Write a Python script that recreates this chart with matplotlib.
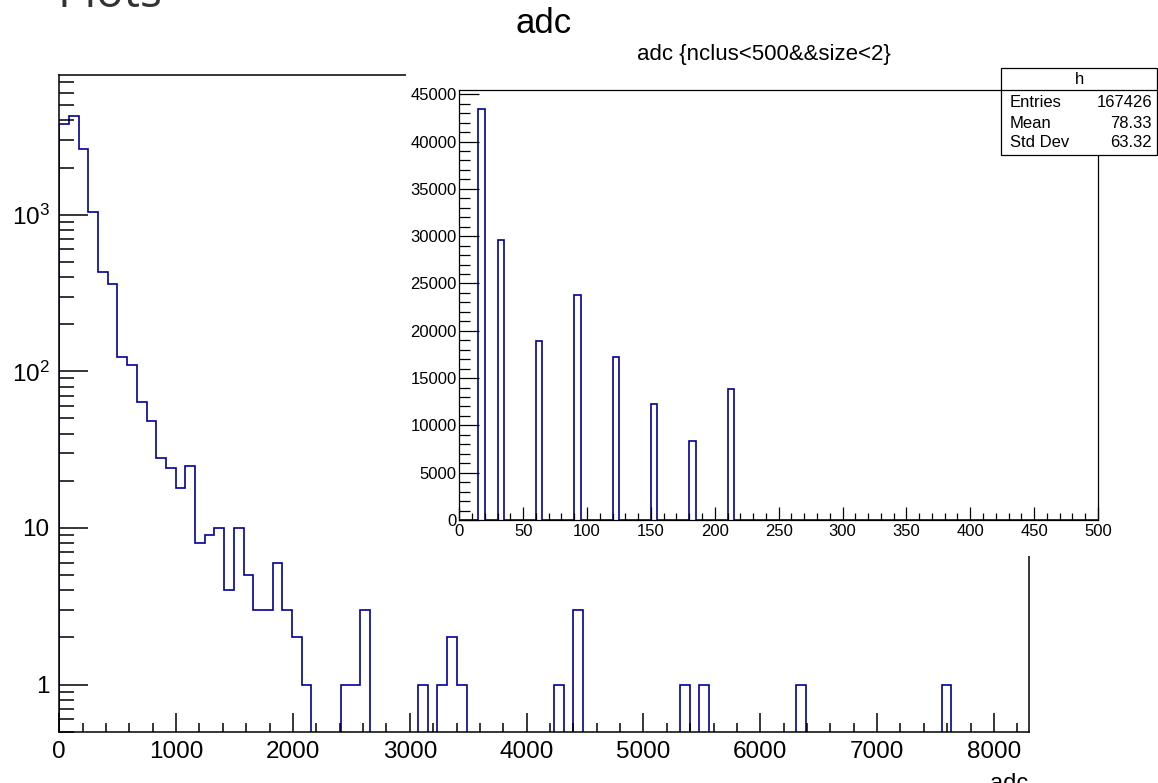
import numpy as np
import matplotlib
matplotlib.use("Agg")
import matplotlib.pyplot as plt
from matplotlib.patches import Rectangle
from matplotlib.lines import Line2D
from matplotlib.ticker import MultipleLocator, LogLocator, FixedLocator, NullFormatter, FixedFormatter

plt.rcParams['font.family'] = ['Liberation Sans', 'DejaVu Sans']
plt.rcParams['mathtext.fontset'] = 'custom'
plt.rcParams['mathtext.rm'] = 'Liberation Sans'
plt.rcParams['mathtext.it'] = 'Liberation Sans:italic'
plt.rcParams['mathtext.bf'] = 'Liberation Sans:bold'

# ---------------- data ----------------
main_title = "adc"
inset_title = "adc {nclus<500&&size<2}"
x_label = "adc"
header_text = "Plots"

main_xrange = (0, 8300)
main_nbins = 100
main_counts = [3800, 4300, 2620, 1045, 432, 362, 124, 110, 64, 48,
               28, 24, 18, 25, 8, 9, 10, 4, 10, 5,
               3, 3, 6, 3, 2, 1, 0, 0, 0, 1,
               1, 3, 0, 0, 0, 0, 0, 1, 0, 1,
               2, 1, 0, 0, 0, 0, 0, 0, 0, 0,
               0, 1, 0, 3, 0, 0, 0, 0, 0, 0,
               0, 0, 0, 0, 1, 0, 1, 0, 0, 0,
               0, 0, 0, 0, 0, 0, 1, 0, 0, 0,
               0, 0, 0, 0, 0, 0, 0, 0, 0, 0,
               0, 1, 0, 0, 0, 0, 0, 0, 0, 0]
main_ylim = (0.5, 7800)
main_yticks = [1, 10, 100, 1000]
main_yticklabels = ["1", "10", r"$\mathregular{10^{2}}$", r"$\mathregular{10^{3}}$"]

inset_xrange = (0, 500)
inset_nbins = 100
inset_peak_lo = [15, 30, 60, 90, 120, 150, 180, 210]
inset_peak_counts = [43450, 29600, 18950, 23830, 17180, 12240, 8370, 13806]
inset_ymax = 45450

stats_name = "h"
stats_labels = ["Entries", "Mean", "Std Dev"]
stats_values = ["167426", "78.33", "63.32"]

LINE_COLOR = '#000099'

# ---------------- figure ----------------
W, H, DPI = 1158, 783, 100
fig = plt.figure(figsize=(W / DPI, H / DPI), dpi=DPI)
fig.patch.set_facecolor('white')


def fx(px):
    return px / W


def fy(py):
    return 1 - py / H


# main axes
L, R, T, B = 59.3, 1029, 75, 731.7
ax = fig.add_axes([fx(L), fy(B), fx(R) - fx(L), (B - T) / H], zorder=0)
edges = np.linspace(main_xrange[0], main_xrange[1], main_nbins + 1)
vals = np.array(main_counts, dtype=float)
plot_vals = np.where(vals > 0, vals, 1e-3)
ax.stairs(plot_vals, edges, color=LINE_COLOR, lw=1.2, baseline=1e-3)
ax.set_yscale('log')
ax.set_xlim(*main_xrange)
ax.set_ylim(*main_ylim)
ax.xaxis.set_major_locator(MultipleLocator(1000))
ax.xaxis.set_minor_locator(MultipleLocator(200))
ax.yaxis.set_major_locator(FixedLocator(main_yticks))
ax.yaxis.set_major_formatter(FixedFormatter(main_yticklabels))
ax.yaxis.set_minor_locator(LogLocator(base=10, subs=np.arange(2, 10)))
ax.yaxis.set_minor_formatter(NullFormatter())
ax.tick_params(axis='x', which='major', direction='in', length=13.7, width=1.1,
               labelsize=17.5, pad=7)
ax.tick_params(axis='x', which='minor', direction='in', length=6.8, width=1.1)
ax.tick_params(axis='y', which='major', direction='in', length=21, width=1.1,
               labelsize=17.5, pad=7)
ax.tick_params(axis='y', which='minor', direction='in', length=10.8, width=1.1)
for s in ax.spines.values():
    s.set_linewidth(1.1)

fig.text(fx(1028), fy(790), x_label, ha='right', va='baseline', fontsize=17)
fig.text(fx(544), fy(33), main_title, ha='center', va='baseline', fontsize=25)
fig.text(fx(58), fy(7), header_text, ha='left', va='baseline', fontsize=33,
         family=['Open Sans', 'DejaVu Sans'], color='#333333')

# inset pad (white) covering part of the main frame
pad = Rectangle((fx(406), fy(556)), 1.0, (556 - 40) / H, transform=fig.transFigure,
                facecolor='white', edgecolor='none', zorder=1)
fig.add_artist(pad)

# inset axes
iL, iR, iT, iB = 459.3, 1098, 90, 520
iax = fig.add_axes([fx(iL), fy(iB), fx(iR) - fx(iL), (iB - iT) / H], zorder=2)
iax.set_facecolor('white')
inset_edges = np.linspace(inset_xrange[0], inset_xrange[1], inset_nbins + 1)
bw = (inset_xrange[1] - inset_xrange[0]) / inset_nbins
inset_vals = np.zeros(inset_nbins)
idx = np.round((np.array(inset_peak_lo) - inset_xrange[0]) / bw).astype(int)
inset_vals[idx] = inset_peak_counts
iax.stairs(inset_vals, inset_edges, color=LINE_COLOR, lw=1.2)
iax.set_xlim(*inset_xrange)
iax.set_ylim(0, inset_ymax)
iax.xaxis.set_major_locator(MultipleLocator(50))
iax.xaxis.set_minor_locator(MultipleLocator(10))
iax.yaxis.set_major_locator(MultipleLocator(5000))
iax.yaxis.set_minor_locator(MultipleLocator(1000))
iax.tick_params(axis='x', which='major', direction='in', length=9.6, width=0.9,
                labelsize=12, pad=3)
iax.tick_params(axis='x', which='minor', direction='in', length=5, width=0.9)
iax.tick_params(axis='y', which='major', direction='in', length=14.4, width=0.9,
                labelsize=12, pad=2)
iax.tick_params(axis='y', which='minor', direction='in', length=8, width=0.9)
for s in iax.spines.values():
    s.set_linewidth(0.9)

fig.text(fx(637), fy(60), inset_title, ha='left', va='baseline', fontsize=16, zorder=5)

# stats box
bx0, bx1, by0, by1, bdiv = 1001, 1157, 68, 155, 90
box = Rectangle((fx(bx0), fy(by1)), fx(bx1) - fx(bx0), (by1 - by0) / H,
                transform=fig.transFigure, facecolor='white', edgecolor='black',
                lw=0.9, zorder=3)
fig.add_artist(box)
fig.add_artist(Line2D([fx(bx0), fx(bx1)], [fy(bdiv), fy(bdiv)], transform=fig.transFigure,
                      color='black', lw=0.9, zorder=4))
fig.text(fx((bx0 + bx1) / 2), fy(80), stats_name, ha='center', va='center',
         fontsize=12, zorder=5)
row_y = [102.5, 123.3, 142.5]
for lab, val, yy in zip(stats_labels, stats_values, row_y):
    fig.text(fx(1010), fy(yy), lab, ha='left', va='center', fontsize=12, zorder=5)
    fig.text(fx(1152), fy(yy), val, ha='right', va='center', fontsize=12, zorder=5)

fig.savefig('out.png', dpi=DPI, facecolor='white')
